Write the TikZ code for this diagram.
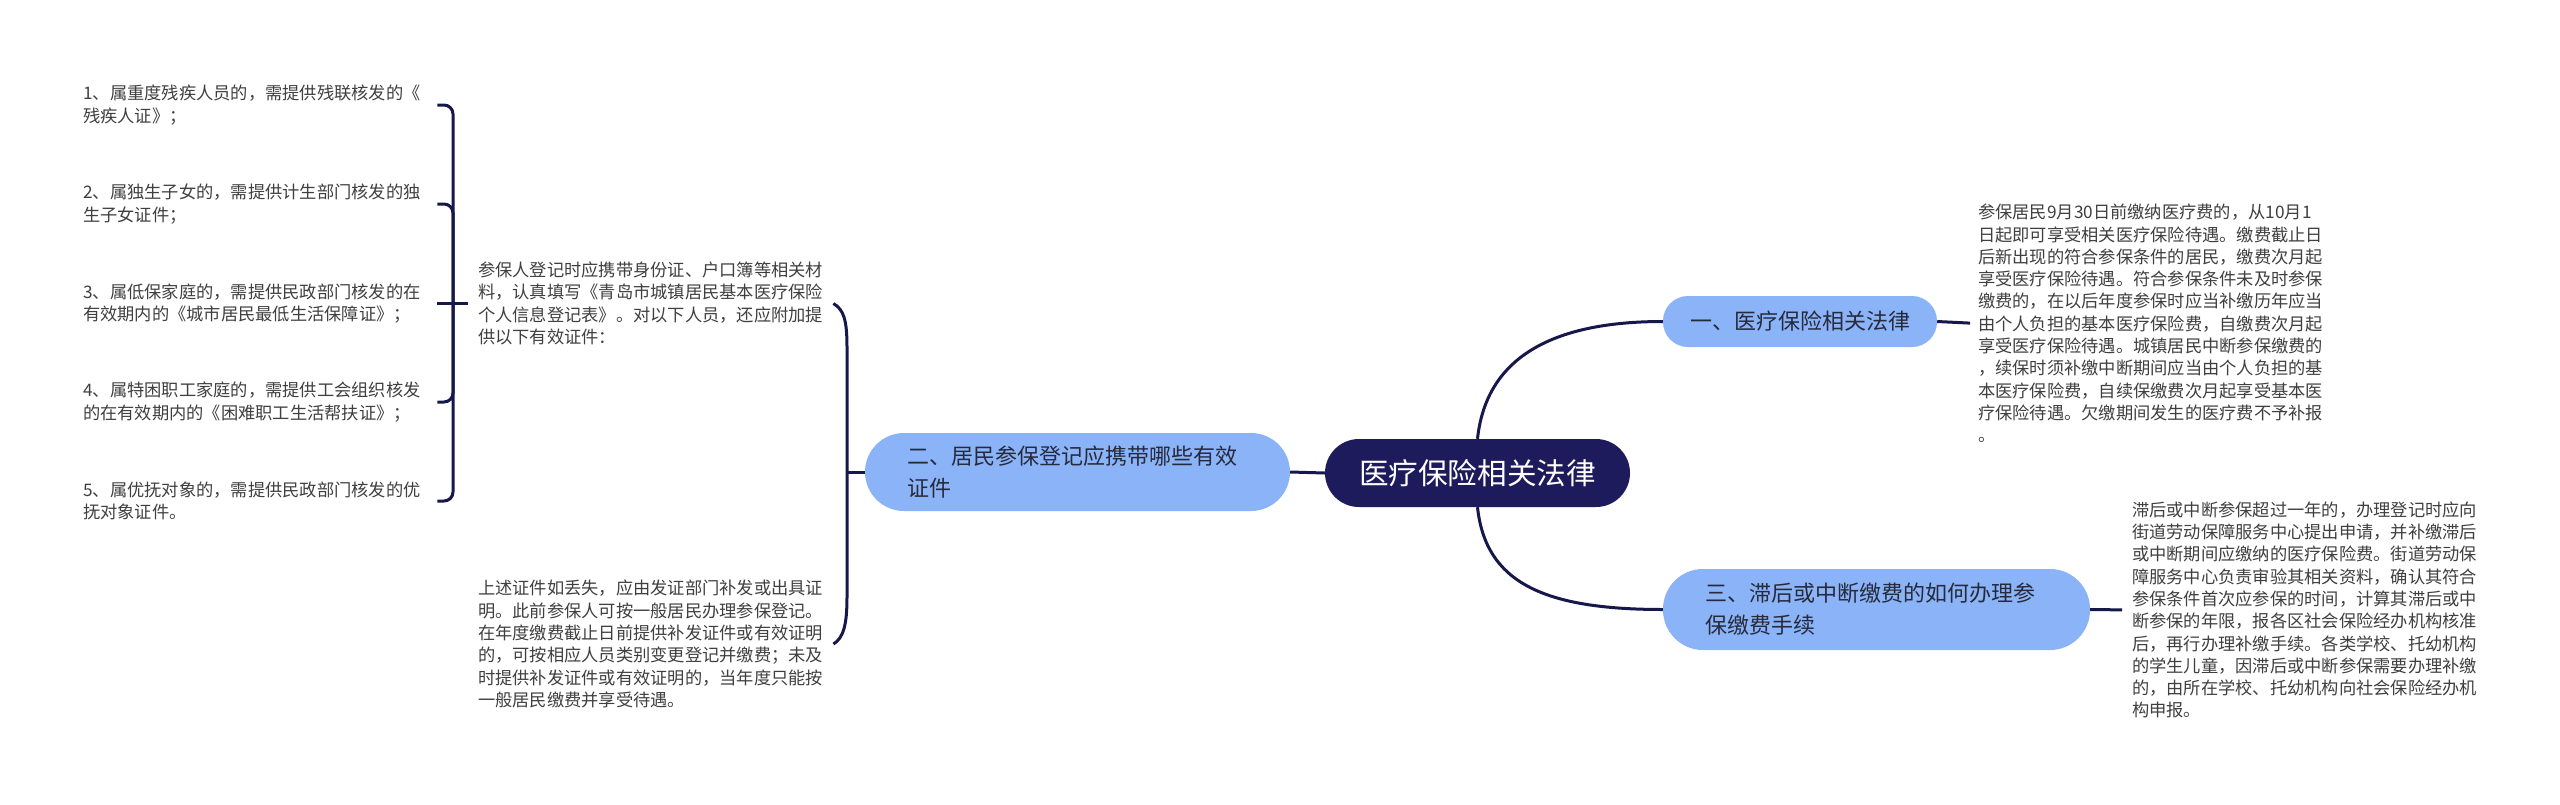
\documentclass[tikz,border=0pt]{standalone}
\usepackage{fontspec}
\setmainfont{Noto Sans CJK SC}
\definecolor{linec}{HTML}{16174A}
\definecolor{rootc}{HTML}{1D1B5B}
\definecolor{branchc}{HTML}{8BB4F8}
\definecolor{btext}{HTML}{262A3C}
\definecolor{bodyc}{HTML}{3F3F3F}
\tikzset{
  conn/.style={draw=linec, line width=3pt},
  branch/.style={fill=branchc, text=btext, font=\fontsize{22}{32}\selectfont, inner sep=0pt, align=left},
  body/.style={text=bodyc, font=\fontsize{17.25}{22.3}\selectfont, inner sep=0pt, align=left, anchor=west, text width=345pt},
}
\begin{document}
\begin{tikzpicture}[x=1pt,y=-1pt]
\fill[white] (0,0) rectangle (2560,804);
\useasboundingbox (0,0) rectangle (2560,804);

% root
\node[fill=rootc, rounded corners=34pt, minimum width=305pt, minimum height=68pt, inner sep=0pt,
  text=white, font=\fontsize{29.6}{36}\selectfont] (root) at (1477.5,473) {医疗保险相关法律};

% branches
\node[branch, rounded corners=25pt, minimum width=274pt, minimum height=51pt] (b1) at (1800,321.5) {一、医疗保险相关法律};
\node[branch, rounded corners=39pt, minimum width=425pt, minimum height=78pt, text width=340pt] (b2) at (1077.5,472) {二、居民参保登记应携带哪些有效\\证件};
\node[branch, rounded corners=40pt, minimum width=427pt, minimum height=81pt, text width=343pt] (b3) at (1876.5,609.5) {三、滞后或中断缴费的如何办理参\\保缴费手续};

% right texts
\node[body] (t1) at (1978,323.5) {参保居民9月30日前缴纳医疗费的，从10月1\\日起即可享受相关医疗保险待遇。缴费截止日\\后新出现的符合参保条件的居民，缴费次月起\\享受医疗保险待遇。符合参保条件未及时参保\\缴费的，在以后年度参保时应当补缴历年应当\\由个人负担的基本医疗保险费，自缴费次月起\\享受医疗保险待遇。城镇居民中断参保缴费的\\，续保时须补缴中断期间应当由个人负担的基\\本医疗保险费，自续保缴费次月起享受基本医\\疗保险待遇。欠缴期间发生的医疗费不予补报\\。};
\node[body] (t3) at (2132,610) {滞后或中断参保超过一年的，办理登记时应向\\街道劳动保障服务中心提出申请，并补缴滞后\\或中断期间应缴纳的医疗保险费。街道劳动保\\障服务中心负责审验其相关资料，确认其符合\\参保条件首次应参保的时间，计算其滞后或中\\断参保的年限，报各区社会保险经办机构核准\\后，再行办理补缴手续。各类学校、托幼机构\\的学生儿童，因滞后或中断参保需要办理补缴\\的，由所在学校、托幼机构向社会保险经办机\\构申报。};

% left texts
\node[body] (tA) at (478,303.5) {参保人登记时应携带身份证、户口簿等相关材\\料，认真填写《青岛市城镇居民基本医疗保险\\个人信息登记表》。对以下人员，还应附加提\\供以下有效证件：};
\node[body] (tB) at (478,644) {上述证件如丢失，应由发证部门补发或出具证\\明。此前参保人可按一般居民办理参保登记。\\在年度缴费截止日前提供补发证件或有效证明\\的，可按相应人员类别变更登记并缴费；未及\\时提供补发证件或有效证明的，当年度只能按\\一般居民缴费并享受待遇。};

\node[body] (i1) at (83,105) {1、属重度残疾人员的，需提供残联核发的《\\残疾人证》；};
\node[body] (i2) at (83,204) {2、属独生子女的，需提供计生部门核发的独\\生子女证件；};
\node[body] (i3) at (83,303.5) {3、属低保家庭的，需提供民政部门核发的在\\有效期内的《城市居民最低生活保障证》；};
\node[body] (i4) at (83,402) {4、属特困职工家庭的，需提供工会组织核发\\的在有效期内的《困难职工生活帮扶证》；};
\node[body] (i5) at (83,501) {5、属优抚对象的，需提供民政部门核发的优\\抚对象证件。};

\coordinate (hubL) at (453,303.5);
\coordinate (hubR) at (847,472);

% connectors: root
\draw[conn] (root.west) -- (b2.east);
\draw[conn] (root.north) .. controls +(8,-75) and +(-120,0) .. (b1.west);
\draw[conn] (root.south) .. controls +(8,75) and +(-120,0) .. (b3.west);
\draw[conn, shorten >=8pt] (b1.east) -- (t1.west);
\draw[conn, shorten >=10pt] (b3.east) -- (t3.west);

% big bracket
\draw[conn] (b2.west) -- (hubR);
\draw[conn] (hubR) -- ++(0,-125) .. controls +(0,-28) and +(10,6) .. ([xshift=10pt]tA.east);
\draw[conn] (hubR) -- ++(0,125) .. controls +(0,28) and +(10,-6) .. ([xshift=10pt]tB.east);

% small bracket
\draw[conn, shorten <=9pt, shorten >=10pt] (i3.east) -- (tA.west);
\draw[conn, rounded corners=9pt, shorten >=9pt] (hubL) |- (i1.east);
\draw[conn, rounded corners=9pt, shorten >=9pt] (hubL) |- (i2.east);
\draw[conn, rounded corners=9pt, shorten >=9pt] (hubL) |- (i4.east);
\draw[conn, rounded corners=9pt, shorten >=9pt] (hubL) |- (i5.east);
\end{tikzpicture}
\end{document}
